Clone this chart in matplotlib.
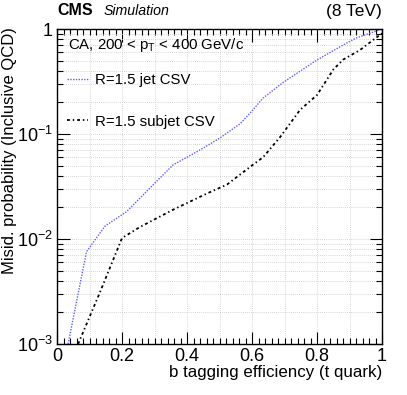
import math
import matplotlib
matplotlib.use('Agg')
import matplotlib.pyplot as plt
from matplotlib.ticker import MultipleLocator, LogLocator, NullFormatter

plt.rcParams['font.family'] = 'Liberation Sans'
plt.rcParams['mathtext.fontset'] = 'custom'
plt.rcParams['mathtext.rm'] = 'Liberation Sans'
plt.rcParams['mathtext.it'] = 'Liberation Sans:italic'

# R=1.5 jet CSV
jetEff = [0.034, 0.091, 0.148, 0.214, 0.286, 0.357, 0.44, 0.50, 0.563, 0.594, 0.634, 0.696, 0.80, 0.87, 0.92, 1.0]
jetMis = [0.001, 0.0076, 0.0133, 0.0182, 0.0306, 0.0507, 0.0705, 0.091, 0.125, 0.158, 0.22, 0.31, 0.507, 0.675, 0.82, 1.0]

# R=1.5 subjet CSV
subEff = [0.065, 0.132, 0.20, 0.255, 0.357, 0.46, 0.523, 0.603, 0.634, 0.686, 0.748, 0.80, 0.85, 0.88, 0.932, 1.0]
subMis = [0.001, 0.0031, 0.0102, 0.013, 0.019, 0.027, 0.033, 0.051, 0.06, 0.093, 0.17, 0.235, 0.41, 0.51, 0.63, 0.91]

fig = plt.figure(figsize=(4.07, 3.95), dpi=100)
ax = fig.add_axes([57/407, 1-344/395, 325/407, 315/395])

ax.plot(jetEff, jetMis, color='#5f5fff', lw=1.0, linestyle=(0, (1, 1)), label='R=1.5 jet CSV')
ax.plot(subEff, subMis, color='black', lw=1.3, linestyle=(0, (1.6, 1.6, 0.8, 1.6)), label='R=1.5 subjet CSV')

ax.set_yscale('log')
ax.set_xlim(0, 1)
ax.set_ylim(1e-3, 1)

# ticks, ROOT style
ax.xaxis.set_major_locator(MultipleLocator(0.2))
ax.xaxis.set_minor_locator(MultipleLocator(0.02))
ax.yaxis.set_major_locator(LogLocator(base=10, numticks=10))
ax.yaxis.set_minor_locator(LogLocator(base=10, subs=range(2, 10), numticks=20))
ax.yaxis.set_minor_formatter(NullFormatter())
ax.tick_params(which='both', direction='in', top=True, right=True, labelsize=13)
ax.tick_params(which='major', length=9, width=0.8, pad=3)
ax.tick_params(which='minor', length=4.5, width=0.8)

def ylab(v, pos):
    if abs(v - 1) < 1e-9:
        return '1'
    return r'$10^{%d}$' % int(round(math.log10(v)))

def xlab(v, pos):
    if abs(v) < 1e-9:
        return '0'
    if abs(v - 1) < 1e-9:
        return '1'
    return '%.1f' % v

ax.yaxis.set_major_formatter(plt.FuncFormatter(ylab))
ax.xaxis.set_major_formatter(plt.FuncFormatter(xlab))

# grid: vertical every 0.1, horizontal at every log tick
for i in range(1, 10):
    ax.axvline(i / 10, color='#c8c8c8', lw=0.6, linestyle=(0, (1, 1.5)), zorder=0)
ax.grid(True, which='both', axis='y', color='#c8c8c8', lw=0.6, linestyle=(0, (1, 1.5)), zorder=0)

for s in ax.spines.values():
    s.set_linewidth(1.0)

fig.text(382/407, 1-372/395, 'b tagging efficiency (t quark)', fontsize=12.2, ha='right', va='center')
fig.text(10/407, 1-27/395, 'Misid. probability (Inclusive QCD)', fontsize=12, rotation=90,
         ha='center', va='top')

fig.text(57/407, 1-15/395, 'CMS', fontsize=11.5, fontweight='bold', va='baseline')
fig.text(104/407, 1-15/395, 'Simulation', fontsize=10.2, style='italic', va='baseline')
fig.text(382/407, 1-16/395, '(8 TeV)', fontsize=12.5, ha='right', va='baseline')

fig.text(68/407, 1-45/395, r'CA, 200 < p$_{\mathrm{T}}$ < 400 GeV/c', fontsize=10.8, va='center')
leg = ax.legend(loc='upper left', bbox_to_anchor=(0.012, 0.88), frameon=False, fontsize=10.8,
                handlelength=1.4, handletextpad=0.5, labelspacing=1.85, borderaxespad=0)

fig.savefig('out.png', dpi=100)
